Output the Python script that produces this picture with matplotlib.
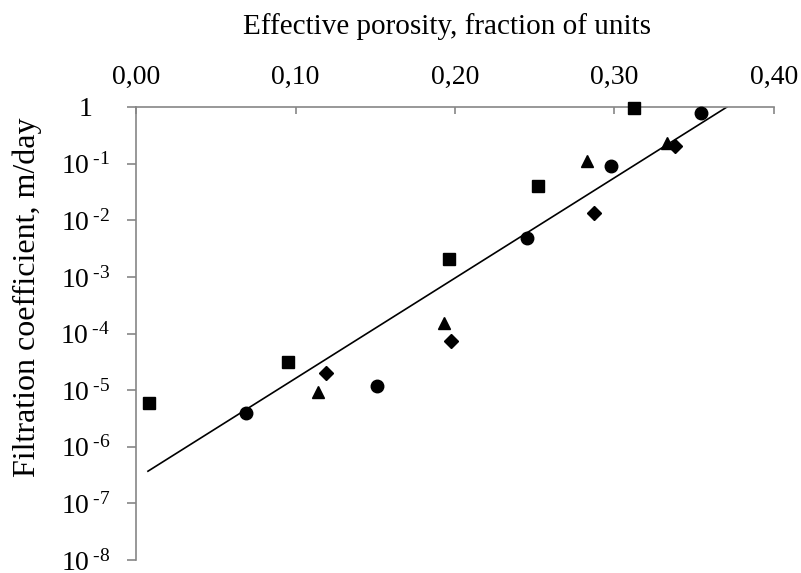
import matplotlib
matplotlib.use("Agg")
import matplotlib.pyplot as plt
import numpy as np

plt.rcParams['font.family'] = ['Liberation Serif', 'DejaVu Serif']
plt.rcParams['mathtext.fontset'] = 'custom'
plt.rcParams['mathtext.rm'] = 'Liberation Serif'
plt.rcParams['mathtext.it'] = 'Liberation Serif:italic'

# data
sq_x = [0.008, 0.095, 0.196, 0.252, 0.312]
sq_y = [5.9e-6, 3.1e-5, 2.06e-3, 0.040, 0.96]
ci_x = [0.069, 0.151, 0.245, 0.298, 0.354]
ci_y = [3.9e-6, 1.18e-5, 4.85e-3, 0.091, 0.78]
tr_x = [0.114, 0.193, 0.283, 0.333]
tr_y = [9.2e-6, 1.53e-4, 0.111, 0.231]
di_x = [0.119, 0.1975, 0.287, 0.338]
di_y = [2.0e-5, 7.3e-5, 0.0134, 0.205]
fit_x = [0.0075, 0.3705]
fit_y = [3.7e-7, 1.0]

x_ticks = [0.0, 0.1, 0.2, 0.3, 0.4]
x_labels = ["0,00", "0,10", "0,20", "0,30", "0,40"]
y_ticks = [1e-8, 1e-7, 1e-6, 1e-5, 1e-4, 1e-3, 1e-2, 1e-1, 1]
y_labels = ["$\\mathregular{10^{\\;\u2010%d}}$" % k for k in range(8, 0, -1)] + ["1"]

fig = plt.figure(figsize=(8.01, 5.73), dpi=100)
ax = fig.add_axes([136/801, 1-560/573, (774-136)/801, (560-107)/573])

ax.plot(fit_x, fit_y, c="black", lw=1.2, zorder=2)
ax.plot(sq_x, sq_y, 's', c="black", ms=9, zorder=3, clip_on=False)
ax.plot(ci_x, ci_y, 'o', c="black", ms=9, zorder=3, clip_on=False)
ax.plot(tr_x, tr_y, '^', c="black", ms=9, zorder=3, clip_on=False)
ax.plot(di_x, di_y, 'D', c="black", ms=7.5, zorder=3, clip_on=False)

ax.set_yscale('log')
ax.set_xlim(0, 0.4)
ax.set_ylim(1e-8, 1)

ax.xaxis.tick_top()
ax.set_xticks(x_ticks)
ax.set_xticklabels(x_labels)
ax.set_yticks(y_ticks)
ax.set_yticklabels(y_labels)
ax.yaxis.set_minor_locator(matplotlib.ticker.NullLocator())

gray = "#868686"
for s in ['right', 'bottom']:
    ax.spines[s].set_visible(False)
for s in ['left', 'top']:
    ax.spines[s].set_color(gray)
    ax.spines[s].set_linewidth(1.2)

ax.tick_params(axis='x', direction='in', length=5, width=1.2, color=gray,
               labelsize=20, pad=12)
ax.tick_params(axis='y', direction='out', length=6.5, width=1.2, color=gray,
               labelsize=20, pad=30)
for t in ax.get_yticklabels():
    t.set_horizontalalignment('center')

fig.text(447/801, 1-27/573, "Effective porosity, fraction of units",
         ha='center', va='center', fontsize=21)
fig.text(27/801, 1-297/573, "Filtration coefficient, m/day",
         ha='center', va='center', rotation=90, fontsize=23)

fig.savefig("out.png", dpi=100)
